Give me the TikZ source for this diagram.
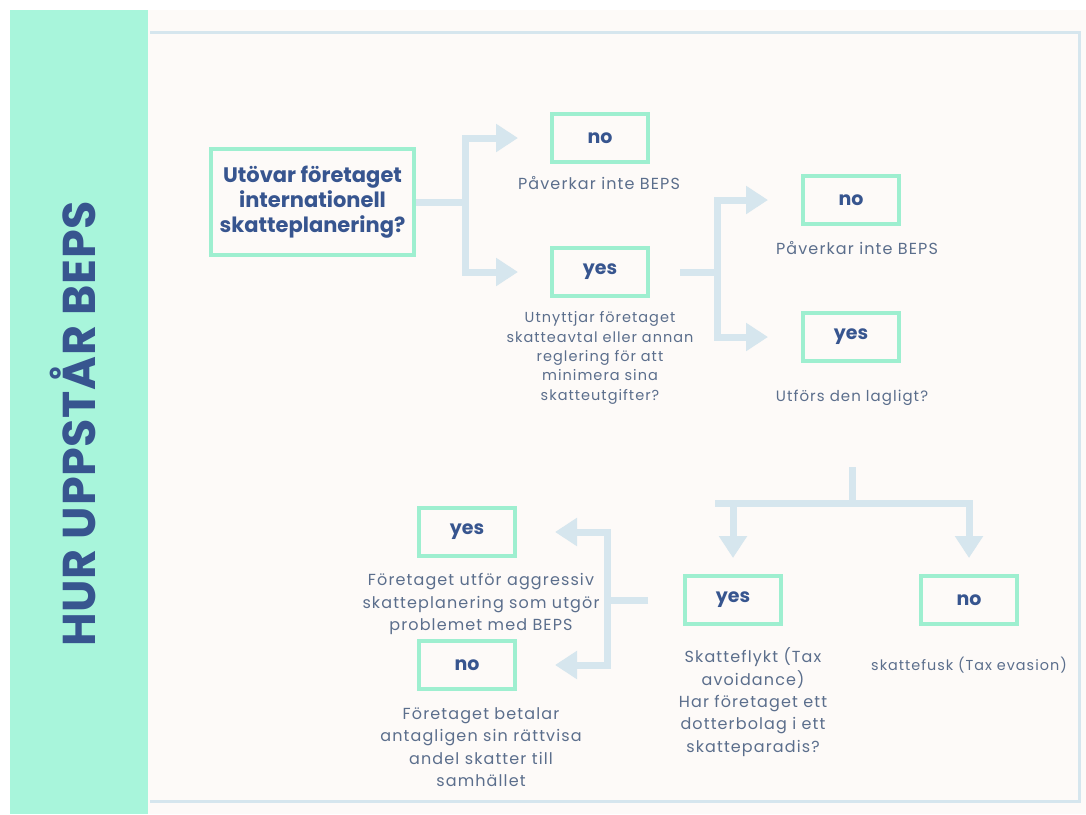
\documentclass[tikz,border=0pt]{standalone}
\usepackage{fontspec}
\setmainfont{Poppins}
\newfontfamily\bodyfont{Poppins}[LetterSpace=7]
\newfontfamily\titlefont{Poppins}[LetterSpace=1.5]
\usetikzlibrary{arrows.meta}
\definecolor{mint}{HTML}{A8F5DB}
\definecolor{mintline}{HTML}{9EEFD0}
\definecolor{navy}{HTML}{37558F}
\definecolor{bodytext}{HTML}{5B6E8C}
\definecolor{flowblue}{HTML}{D6E6EE}
\definecolor{paper}{HTML}{FDFAF8}
\begin{document}
\begin{tikzpicture}[x=1pt, y=-1pt,
	ans/.style={draw=mintline, line width=4pt, minimum width=96pt, minimum height=48pt, text=navy, font=\bfseries\fontsize{19}{22}\selectfont},
	txt/.style={align=center, text=bodytext, font=\bodyfont\fontsize{16}{22.3}\selectfont},
	flow/.style={draw=flowblue, line width=7pt},
	tip/.style={-{Triangle[width=27pt,length=22pt]}}]
	\useasboundingbox[fill=white] (0,0) rectangle (1086,814);
	\fill[mint] (10,10) rectangle (148,814);
	\fill[paper] (148,10) rectangle (1086,814);
	\draw[flowblue, line width=3pt] (150,32) -- (1079,32) -- (1079,801) -- (150,801);

	\node[rotate=90, text=navy, font=\titlefont\bfseries\fontsize{46}{46}\selectfont] (title) at (73,424) {HUR UPPSTÅR BEPS};

	\node[draw=mintline, line width=4.5pt, minimum width=203pt, minimum height=106pt, align=center, text=navy, font=\bfseries\fontsize{21}{25}\selectfont] (q1) at (312.5,202) {Utövar företaget\\internationell\\skatteplanering?};

	\node[ans] (no1) at (600,138) {no};
	\node[txt] (no1txt) at (599,183) {Påverkar inte BEPS};
	\node[ans] (yes1) at (600,272) {yes};
	\node[txt, font=\bodyfont\fontsize{14.5}{19.3}\selectfont] (yes1txt) at (600,358) {Utnyttjar företaget\\skatteavtal eller annan\\reglering för att\\minimera sina\\skatteutgifter?};

	\node[ans] (no2) at (851,200) {no};
	\node[txt] (no2txt) at (857,248) {Påverkar inte BEPS};
	\node[ans] (yes2) at (851,337) {yes};
	\node[txt, font=\bodyfont\fontsize{15}{22.3}\selectfont] (yes2txt) at (852,398) {Utförs den lagligt?};

	\node[ans] (yes3) at (733,600) {yes};
	\node[txt] (yes3txt) at (753,702) {Skatteflykt (Tax\\avoidance)\\Har företaget ett\\dotterbolag i ett\\skatteparadis?};
	\node[ans] (no3) at (969,600) {no};
	\node[txt, font=\bodyfont\fontsize{14.4}{22.3}\selectfont] (no3txt) at (969,665) {skattefusk (Tax evasion)};

	\node[ans] (yes4) at (467,532) {yes};
	\node[txt] (yes4txt) at (481,604) {Företaget utför aggressiv\\skatteplanering som utgör\\problemet med BEPS};
	\node[ans] (no4) at (467,665) {no};
	\node[txt] (no4txt) at (481,747) {Företaget betalar\\antagligen sin rättvisa\\andel skatter till\\samhället};

	\coordinate (j1) at (465,202);
	\coordinate (j2) at (717,272);
	\coordinate (j3) at (852,503);
	\coordinate (j4) at (607,600);

	\draw[flow] (q1.east) -- (j1);
	\draw[flow, tip, shorten >=32pt] (j1) |- (no1.west);
	\draw[flow, tip, shorten >=32pt] (j1) |- (yes1.west);

	\draw[flow, shorten <=30pt] (yes1.east) -- (j2);
	\draw[flow, tip, shorten >=33pt] (j2) |- (no2.west);
	\draw[flow, tip, shorten >=33pt] (j2) |- (yes2.west);

	\draw[flow, shorten <=58pt] (yes2txt.south) -- (j3);
	\draw[flow] (j3) -- ([xshift=-18pt]j3 -| yes3);
	\draw[flow, tip, shorten >=16pt] (j3) -| (yes3.north);
	\draw[flow, tip, shorten >=16pt] (j3) -| (no3.north);

	\draw[flow, shorten <=35pt] (yes3.west) -- (j4);
	\draw[flow, tip, shorten >=38pt] (j4) |- (yes4.east);
	\draw[flow, tip, shorten >=38pt] (j4) |- (no4.east);
\end{tikzpicture}
\end{document}
